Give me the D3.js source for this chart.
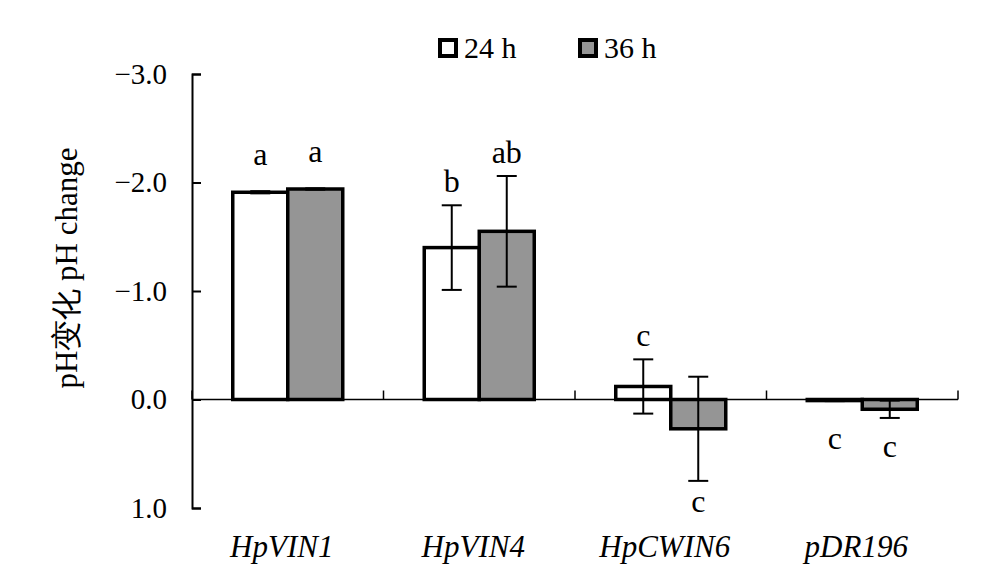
<!DOCTYPE html>
<meta charset="utf-8">
<head>
<style>
  body { margin: 0; background: #fff; }
  svg { display: block; }
  text { font-family: "Liberation Serif", "Times New Roman", serif; fill: #000; }
  .axis text { font-size: 29px; }
  .axis path, .axis line { stroke: #000; stroke-width: 2; }
  .xlab { font-size: 31px; font-style: italic; }
  .sig { font-size: 32px; }
  .legend text { font-size: 30px; }
  .ylab { font-size: 31px; }
</style>
</head>
<body>
<script src="https://cdn.jsdelivr.net/npm/d3@7"></script>
<script>
// data (negative = acidification, axis is inverted)
var categories = ["HpVIN1", "HpVIN4", "HpCWIN6", "pDR196"];
var seriesNames = ["24 h", "36 h"];
var values24 = [-1.91, -1.40, -0.12, 0.01];
var err24 = [0.01, 0.39, 0.25, 0.005];
var values36 = [-1.94, -1.55, 0.27, 0.09];
var err36 = [0.006, 0.51, 0.48, 0.08];
var letters24 = ["a", "b", "c", "c"];
var letters36 = ["a", "ab", "c", "c"];
var yTicks = [-3, -2, -1, 0, 1];

var fills = ["#ffffff", "#959595"];

var width = 1000, height = 588;
var plotLeft = 192, plotRight = 958, plotTop = 74, plotBottom = 508;

var svg = d3.select("body").append("svg")
    .attr("width", width)
    .attr("height", height);

var y = d3.scaleLinear().domain([-3, 1]).range([plotTop, plotBottom]);

var x0 = d3.scaleBand().domain(categories).range([plotLeft, plotRight]).padding(0);
var barW = 55;
var x1 = d3.scaleBand().domain(seriesNames)
    .range([(x0.bandwidth() - 2 * barW) / 2, (x0.bandwidth() + 2 * barW) / 2]);

var rows = [];
categories.forEach(function (c, i) {
    rows.push({ cat: c, s: seriesNames[0], v: values24[i], e: err24[i], l: letters24[i], k: 0 });
    rows.push({ cat: c, s: seriesNames[1], v: values36[i], e: err36[i], l: letters36[i], k: 1 });
});

// x axis line at zero with upward boundary ticks
var xg = svg.append("g").attr("class", "axis");
xg.append("line")
    .attr("x1", plotLeft).attr("x2", plotRight)
    .attr("y1", y(0)).attr("y2", y(0))
    .style("stroke-width", 1.5);
var bounds = categories.map(function (c) { return x0(c); }).concat([plotRight]);
xg.selectAll(".bt").data(bounds).enter().append("line")
    .attr("x1", function (d) { return d; }).attr("x2", function (d) { return d; })
    .attr("y1", y(0)).attr("y2", y(0) - 9)
    .style("stroke-width", 1.5);

// bars
svg.selectAll(".bar").data(rows).enter().append("rect")
    .attr("class", "bar")
    .attr("x", function (d) { return x0(d.cat) + x1(d.s); })
    .attr("width", barW)
    .attr("y", function (d) { return Math.min(y(d.v), y(0)); })
    .attr("height", function (d) { return Math.max(Math.abs(y(d.v) - y(0)), 0.5); })
    .attr("fill", function (d) { return fills[d.k]; })
    .attr("stroke", "#000")
    .attr("stroke-width", 3.5);

// error bars
var eb = svg.selectAll(".err").data(rows).enter().append("g")
    .attr("transform", function (d) {
        return "translate(" + (x0(d.cat) + x1(d.s) + barW / 2) + ",0)";
    })
    .style("stroke", "#000").style("stroke-width", 2);
eb.append("line")
    .attr("y1", function (d) { return y(d.v - d.e); })
    .attr("y2", function (d) { return y(d.v + d.e); });
eb.append("line").attr("x1", -10).attr("x2", 10)
    .attr("y1", function (d) { return y(d.v - d.e); })
    .attr("y2", function (d) { return y(d.v - d.e); });
eb.append("line").attr("x1", -10).attr("x2", 10)
    .attr("y1", function (d) { return y(d.v + d.e); })
    .attr("y2", function (d) { return y(d.v + d.e); });

// significance letters
svg.selectAll(".sig").data(rows).enter().append("text")
    .attr("class", "sig")
    .attr("text-anchor", "middle")
    .attr("x", function (d) { return x0(d.cat) + x1(d.s) + barW / 2; })
    .attr("y", function (d) {
        if (d.v < 0) return Math.min(y(d.v - d.e) - 13, y(d.v) - 27);
        return Math.max(y(d.v + d.e) + 31, y(d.v) + 48);
    })
    .text(function (d) { return d.l; });

// y axis, ticks pointing inward
var yAxis = d3.axisLeft(y)
    .tickValues(yTicks)
    .tickSize(-9)
    .tickPadding(25)
    .tickFormat(function (d) {
        return (d < 0 ? "\u2212" : "") + Math.abs(d).toFixed(1);
    });
svg.append("g").attr("class", "axis")
    .attr("transform", "translate(" + plotLeft + ",0)")
    .call(yAxis)
    .call(function (g) { g.selectAll("text").attr("font-family", null).attr("font-size", null); });

// category labels
svg.selectAll(".xlab").data(categories).enter().append("text")
    .attr("class", "xlab")
    .attr("text-anchor", "middle")
    .attr("x", function (d) { return x0(d) + x0.bandwidth() / 2 - 6; })
    .attr("y", 557)
    .text(function (d) { return d; });

// y title
svg.append("text")
    .attr("class", "ylab")
    .attr("text-anchor", "middle")
    .attr("transform", "translate(77,268) rotate(-90)")
    .text("pH变化 pH change");

// legend
var lg = svg.append("g").attr("class", "legend");
var legendX = [440, 580];
seriesNames.forEach(function (s, i) {
    lg.append("rect")
        .attr("x", legendX[i]).attr("y", 40)
        .attr("width", 16).attr("height", 16)
        .attr("fill", fills[i])
        .attr("stroke", "#000").attr("stroke-width", 4);
    lg.append("text")
        .attr("x", legendX[i] + 24).attr("y", 58)
        .text(s);
});
</script>
</body>
